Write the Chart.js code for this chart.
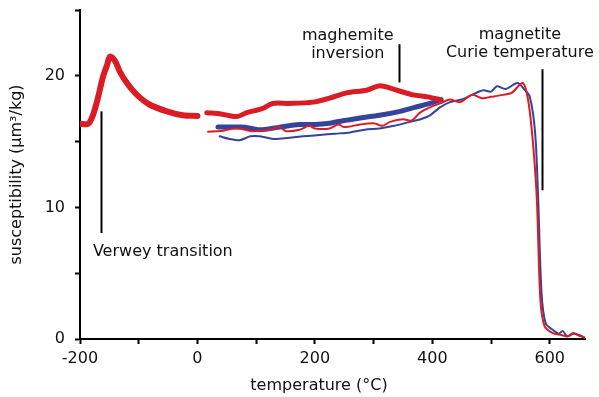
<!DOCTYPE html>
<html>
<head>
<meta charset="utf-8">
<script src="https://cdn.jsdelivr.net/npm/chart.js@4/dist/chart.umd.min.js"></script>
<style>
  html, body { margin: 0; padding: 0; background: #fff; }
  #wrap { width: 599px; height: 397px; }
</style>
</head>
<body>
<div id="wrap"><canvas id="kt"></canvas></div>
<script>
// temperature (°C) and susceptibility (µm³/kg)
const lowTempX = [-200, -186, -178, -169, -161, -154, -149, -140, -132, -120, -103, -81, -52, -25, 0];
const lowTempY = [16.35, 16.35, 17.0, 18.4, 19.9, 20.8, 21.45, 21.1, 20.3, 19.45, 18.55, 17.8, 17.3, 17.0, 16.95];

const heatRedX = [16, 40, 67, 84, 110, 128, 157, 197, 225, 254, 288, 311, 340, 367, 392, 413];
const heatRedY = [17.2, 17.1, 16.9, 17.2, 17.5, 17.9, 17.9, 18.0, 18.3, 18.7, 18.9, 19.25, 18.9, 18.55, 18.4, 18.2];

const heatBlueX = [35, 60, 81, 106, 140, 174, 200, 225, 250, 277, 310, 345, 370, 396, 415];
const heatBlueY = [16.1, 16.1, 16.1, 15.9, 16.1, 16.3, 16.3, 16.4, 16.6, 16.8, 17.0, 17.3, 17.6, 17.9, 18.2];

const redX = [18, 40, 60, 72, 90, 100, 123, 140, 150, 174, 190, 200, 225, 240, 250, 277, 300, 315, 328, 350, 365, 379, 396, 413, 430, 447, 468, 485, 500, 520, 535, 554, 563, 571, 578, 584, 591, 605, 620, 630, 640, 650, 660];
const redY = [15.75, 15.8, 16.0, 16.0, 15.8, 15.8, 15.9, 16.1, 15.8, 15.9, 16.2, 16.0, 16.0, 16.3, 16.1, 16.3, 16.4, 16.2, 16.5, 16.7, 16.6, 17.2, 17.6, 17.9, 18.2, 18.0, 18.55, 18.3, 18.4, 18.55, 18.7, 19.45, 18.2, 15.1, 10.6, 3.0, 1.0, 0.45, 0.3, 0.2, 0.45, 0.25, 0.1];

const blueX = [38, 55, 72, 90, 106, 130, 157, 180, 208, 235, 260, 285, 310, 335, 362, 380, 396, 413, 430, 450, 467, 487, 500, 510, 525, 545, 556, 566, 575, 580, 586, 593, 605, 615, 622, 630, 640, 650, 660];
const blueY = [15.4, 15.2, 15.1, 15.4, 15.4, 15.2, 15.3, 15.4, 15.5, 15.6, 15.7, 15.9, 16.0, 16.2, 16.5, 16.7, 17.0, 17.6, 18.0, 18.2, 18.55, 18.9, 18.8, 19.2, 19.0, 19.45, 19.0, 18.4, 15.7, 11.0, 3.5, 1.2, 0.7, 0.4, 0.6, 0.2, 0.4, 0.3, 0.1];

const xTicks = [-200, 0, 200, 400, 600];
const yTicks = [0, 10, 20];

const RED = '#dc1c24';
const BLUE = '#35439a';
const FONT = 'DejaVu Sans';

const pts = (xs, ys) => xs.map((x, i) => ({ x: x, y: ys[i] }));

// labelled marker lines (data coords)
const notes = [
  { x: -164, y1: 17.3, y2: 8.05, text: ['Verwey transition'], tx: -178, ty: 6.6, align: 'left' },
  { x: 343, y1: 22.4, y2: 19.5, text: ['maghemite', 'inversion'], tx: 256, ty: 23.0, align: 'center' },
  { x: 586, y1: 20.5, y2: 11.3, text: ['magnetite', 'Curie temperature'], tx: 549, ty: 23.15, align: 'center' }
];

const notePlugin = {
  id: 'notes',
  afterDatasetsDraw(chart) {
    const c = chart.ctx, xs = chart.scales.x, ys = chart.scales.y;
    c.save();
    c.strokeStyle = '#000';
    c.lineWidth = 2;
    c.fillStyle = '#111';
    c.font = '16px "' + FONT + '"';
    c.textBaseline = 'middle';
    notes.forEach(n => {
      const px = Math.round(xs.getPixelForValue(n.x)) + 0.5;
      c.beginPath();
      c.moveTo(px, ys.getPixelForValue(n.y1));
      c.lineTo(px, ys.getPixelForValue(n.y2));
      c.stroke();
      c.textAlign = n.align;
      n.text.forEach((t, i) => {
        c.fillText(t, xs.getPixelForValue(n.tx), ys.getPixelForValue(n.ty) + i * 18);
      });
    });
    // x axis title, sits a little left of the axis centre in the original
    c.textAlign = 'center';
    c.fillText('temperature (°C)', 319, 386);
    c.restore();
  }
};

new Chart(document.getElementById('kt'), {
  type: 'line',
  data: {
    datasets: [
      { data: pts(lowTempX, lowTempY), borderColor: RED, borderWidth: 6 },
      { data: pts(redX, redY), borderColor: RED, borderWidth: 2 },
      { data: pts(heatRedX, heatRedY), borderColor: RED, borderWidth: 5 },
      { data: pts(blueX, blueY), borderColor: BLUE, borderWidth: 2 },
      { data: pts(heatBlueX, heatBlueY), borderColor: BLUE, borderWidth: 5 }
    ]
  },
  options: {
    animation: false,
    responsive: true,
    maintainAspectRatio: false,
    layout: { padding: { top: 10, right: 14, left: 0, bottom: 0 } },
    elements: { point: { radius: 0 }, line: { tension: 0.3, borderJoinStyle: 'round', borderCapStyle: 'round' } },
    plugins: { legend: { display: false }, tooltip: { enabled: false } },
    scales: {
      x: {
        type: 'linear',
        min: -200, max: 660,
        border: { display: true, color: '#000', width: 2 },
        grid: { drawOnChartArea: false, drawTicks: true, tickLength: 5, tickColor: '#000', tickWidth: 2 },
        ticks: {
          stepSize: 100, includeBounds: false, maxRotation: 0, autoSkip: false,
          color: '#111', font: { family: FONT, size: 16 }, padding: 5,
          callback: v => xTicks.includes(v) ? String(v) : ''
        },
        afterFit: s => { s.height = 58; s.paddingLeft = 0; s.paddingRight = 0; }
      },
      y: {
        min: 0, max: 25,
        border: { display: true, color: '#000', width: 2 },
        grid: { drawOnChartArea: false, drawTicks: true, tickLength: 5, tickColor: '#000', tickWidth: 2 },
        ticks: {
          stepSize: 5, autoSkip: false,
          color: '#111', font: { family: FONT, size: 16 }, padding: 10,
          callback: v => yTicks.includes(v) ? String(v) : ''
        },
        title: { display: true, text: 'susceptibility (µm³/kg)', color: '#111', font: { family: FONT, size: 16 }, padding: { top: 7, bottom: 0 } },
        afterFit: s => { s.width = 80; s.paddingTop = 0; s.paddingBottom = 0; }
      }
    }
  },
  plugins: [notePlugin]
});
</script>
</body>
</html>
